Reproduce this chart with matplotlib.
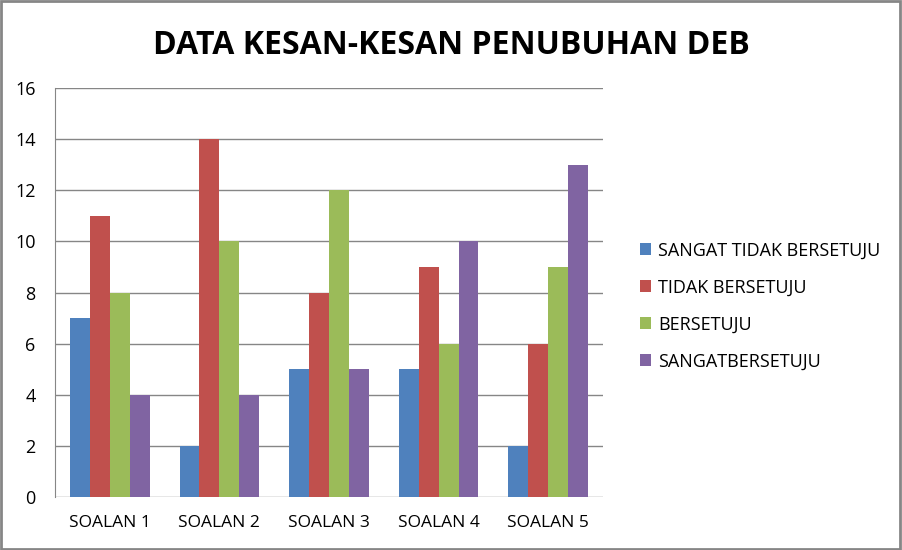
import matplotlib
matplotlib.use("Agg")
import matplotlib.pyplot as plt
from matplotlib.patches import Rectangle
import numpy as np

categories = ["SOALAN 1", "SOALAN 2", "SOALAN 3", "SOALAN 4", "SOALAN 5"]
series_names = ["SANGAT TIDAK BERSETUJU", "TIDAK BERSETUJU", "BERSETUJU", "SANGATBERSETUJU"]
sangat_tidak = [7, 2, 5, 5, 2]
tidak = [11, 14, 8, 9, 6]
setuju = [8, 10, 12, 6, 9]
sangat_setuju = [4, 4, 5, 10, 13]
yticks = [0, 2, 4, 6, 8, 10, 12, 14, 16]
title = "DATA KESAN-KESAN PENUBUHAN DEB"

colors = ["#4F81BD", "#C0504D", "#9BBB59", "#8064A2"]
plt.rcParams['font.family'] = ['Open Sans', 'DejaVu Sans']

fig = plt.figure(figsize=(9.02, 5.5), dpi=100)
fig.patches.append(Rectangle((0.001, 0.002), 0.997, 0.996, transform=fig.transFigure,
                             fill=False, edgecolor="#868686", linewidth=2))
ax = fig.add_axes([55/902, 1-497/550, 548/902, 409/550])

x = np.arange(len(categories))
bw = 1/5.5
data = [sangat_tidak, tidak, setuju, sangat_setuju]
for i, (vals, name) in enumerate(zip(data, series_names)):
    ax.bar(x + (i - 1.5) * bw, vals, width=bw, color=colors[i], label=name, zorder=3)

ax.set_xlim(-0.5, len(categories) - 0.5)
ax.set_ylim(0, 16)
ax.set_yticks(yticks)
ax.set_yticklabels([str(t) for t in yticks], fontsize=13)
ax.set_xticks(x)
ax.set_xticklabels(categories, fontsize=12.5)
ax.tick_params(axis='both', length=0)
ax.tick_params(axis='y', pad=14)
ax.tick_params(axis='x', pad=13)
ax.grid(axis='y', color="#868686", linewidth=1, zorder=0)
for s in ["top", "right", "bottom"]:
    ax.spines[s].set_visible(False)
ax.spines["left"].set_color("#868686")

fig.text(451/902, 1-45/550, title, ha='center', va='center', fontsize=23, fontweight='bold')

handles, labels = ax.get_legend_handles_labels()
fig.legend(handles, labels, loc='center left', bbox_to_anchor=(624/902, 1-306/550),
           frameon=False, fontsize=13, handlelength=0.6, handleheight=0.6,
           handletextpad=0.4, labelspacing=1.05)

fig.savefig("out.png", dpi=100)
